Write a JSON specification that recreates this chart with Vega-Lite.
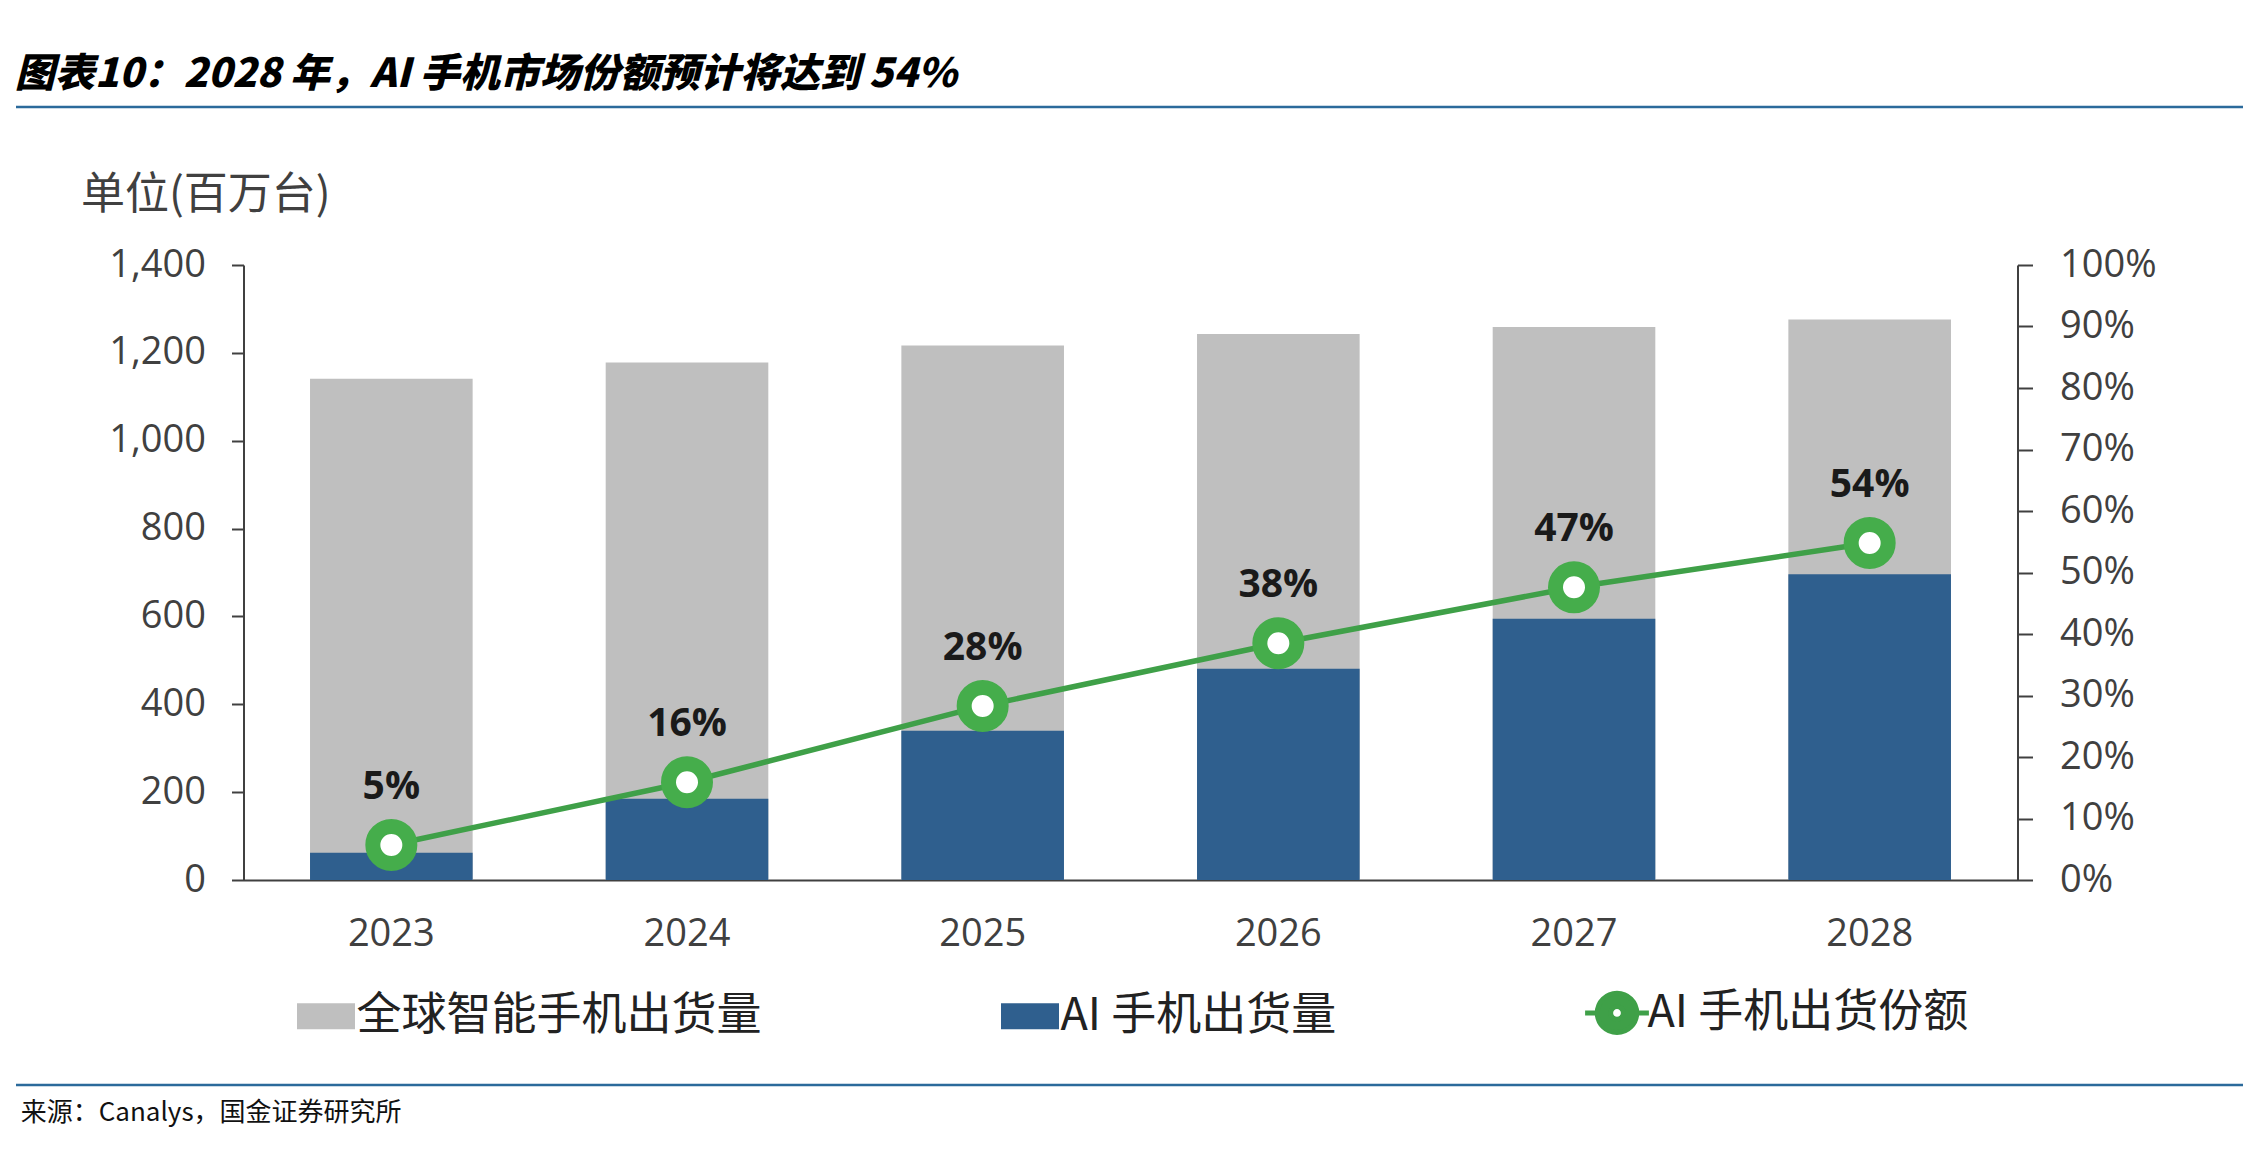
{
  "$schema": "https://vega.github.io/schema/vega-lite/v6.json",
  "background": "white",
  "padding": {"left": 14, "top": 54, "right": 0, "bottom": 20},
  "config": {
    "font": "'Open Sans', 'Noto Sans CJK SC'",
    "view": {"stroke": null},
    "axis": {"grid": false}
  },
  "title": {
    "text": "图表10：2028 年，AI 手机市场份额预计将达到 54%",
    "anchor": "start",
    "frame": "bounds",
    "font": "'Noto Sans CJK SC'",
    "fontSize": 40,
    "fontWeight": 900,
    "fontStyle": "italic",
    "color": "#000000",
    "offset": 11
  },
  "resolve": {"scale": {"color": "independent"}, "legend": {"color": "independent"}},
  "bounds": "flush",
  "center": true,
  "spacing": 20,
  "vconcat": [
    {
      "width": 2229,
      "height": 138,
      "data": {"values": [{}]},
      "mark": {"type": "rule", "color": "#2b6a9b", "strokeWidth": 2.5},
      "encoding": {
        "y": {"datum": 1, "type": "quantitative", "scale": {"domain": [0, 1]}, "axis": null}
      }
    },
    {
      "width": 1774,
      "height": 615,
      "data": {
        "values": [
          {"year": "2023", "total": 1141, "ai": 62, "share": 0.057, "label": "5%"},
          {"year": "2024", "total": 1178, "ai": 185, "share": 0.159, "label": "16%"},
          {"year": "2025", "total": 1217, "ai": 340, "share": 0.283, "label": "28%"},
          {"year": "2026", "total": 1243, "ai": 481, "share": 0.385, "label": "38%"},
          {"year": "2027", "total": 1259, "ai": 595, "share": 0.476, "label": "47%"},
          {"year": "2028", "total": 1276, "ai": 696, "share": 0.548, "label": "54%"}
        ]
      },
      "encoding": {
        "x": {
          "field": "year",
          "type": "ordinal",
          "scale": {"paddingInner": 0.45, "paddingOuter": 0.225},
          "axis": {
            "title": null,
            "labelAngle": 0,
            "labelFontSize": 38,
            "labelColor": "#404040",
            "labelPadding": 35,
            "ticks": false,
            "domainColor": "#404040",
            "domainWidth": 2
          }
        }
      },
      "layer": [
        {
          "layer": [
            {
              "mark": {"type": "bar"},
              "encoding": {
                "y": {
                  "field": "total",
                  "type": "quantitative",
                  "scale": {"domain": [0, 1400], "nice": false},
                  "axis": {
                    "values": [0, 200, 400, 600, 800, 1000, 1200, 1400],
                    "format": ",d",
                    "title": "单位(百万台)",
                    "titleAngle": 0,
                    "titleAlign": "left",
                    "titleBaseline": "middle",
                    "titleX": -163,
                    "titleY": -70,
                    "titleFontSize": 44,
                    "titleFontWeight": "normal",
                    "titleColor": "#404040",
                    "titleFont": "'Noto Sans CJK SC'",
                    "labelFontSize": 38,
                    "labelColor": "#404040",
                    "labelPadding": 26,
                    "tickSize": 12,
                    "tickColor": "#404040",
                    "tickWidth": 2,
                    "domainColor": "#404040",
                    "domainWidth": 2
                  }
                },
                "color": {
                  "datum": "全球智能手机出货量",
                  "scale": {
                    "domain": ["全球智能手机出货量", "AI 手机出货量", "AI 手机出货份额"],
                    "range": ["#bfbfbf", "#2f5f8e", "#3fa048"]
                  },
                  "legend": {
                    "orient": "none",
                    "legendX": 60,
                    "legendY": 725,
                    "direction": "horizontal",
                    "title": null,
                    "labelFontSize": 45,
                    "labelFont": "'Noto Sans CJK SC'",
                    "labelColor": "#222222",
                    "labelLimit": 0,
                    "symbolSize": 3364,
                    "columnPadding": 238,
                    "labelOffset": 8,
                    "encode": {
                      "symbols": {
                        "update": {
                          "shape": {"signal": "datum.value === 'AI 手机出货份额' ? 'M-1.1,0H-0.68M0.68,0H1.1M0.68,0A0.68,0.68 0 1 1 -0.68,0A0.68,0.68 0 1 1 0.68,0ZM0.22,0A0.22,0.22 0 1 0 -0.22,0A0.22,0.22 0 1 0 0.22,0Z' : 'M-1,-0.45H1V0.45H-1Z'"},
                          "fill": {"signal": "datum.value === 'AI 手机出货份额' ? '#45ad4b' : (datum.value === 'AI 手机出货量' ? '#2f5f8e' : '#bfbfbf')"},
                          "stroke": {"signal": "datum.value === 'AI 手机出货份额' ? '#45ad4b' : 'transparent'"},
                          "strokeWidth": {"signal": "datum.value === 'AI 手机出货份额' ? 5 : 0"},
                          "opacity": {"value": 1},
                          "fillOpacity": {"value": 1}
                        }
                      }
                    }
                  }
                }
              }
            },
            {
              "mark": {"type": "bar"},
              "encoding": {
                "y": {"field": "ai", "type": "quantitative"},
                "color": {"datum": "AI 手机出货量"}
              }
            }
          ]
        },
        {
          "layer": [
            {
              "mark": {"type": "line", "strokeWidth": 5.5},
              "encoding": {
                "y": {
                  "field": "share",
                  "type": "quantitative",
                  "scale": {"domain": [0, 1], "nice": false},
                  "axis": {
                    "orient": "right",
                    "values": [0, 0.1, 0.2, 0.3, 0.4, 0.5, 0.6, 0.7, 0.8, 0.9, 1],
                    "format": ".0%",
                    "title": null,
                    "labelFontSize": 38,
                    "labelColor": "#404040",
                    "labelPadding": 27,
                    "tickSize": 15,
                    "tickColor": "#404040",
                    "tickWidth": 2,
                    "domainColor": "#404040",
                    "domainWidth": 2
                  }
                },
                "color": {"datum": "AI 手机出货份额"}
              }
            },
            {
              "mark": {
                "type": "point",
                "shape": "circle",
                "filled": true,
                "fill": "white",
                "stroke": "#45ad4b",
                "strokeWidth": 15,
                "size": 1369,
                "opacity": 1
              },
              "encoding": {
                "y": {"field": "share", "type": "quantitative"}
              }
            },
            {
              "mark": {
                "type": "text",
                "dy": -58,
                "fontSize": 39,
                "fontWeight": "bold",
                "color": "#1a1a1a"
              },
              "encoding": {
                "y": {"field": "share", "type": "quantitative"},
                "text": {"field": "label"}
              }
            }
          ]
        }
      ],
      "resolve": {"scale": {"y": "independent"}}
    },
    {
      "width": 2229,
      "height": 185,
      "data": {"values": [{}]},
      "title": {
        "text": "来源：Canalys，国金证券研究所",
        "orient": "bottom",
        "anchor": "start",
        "frame": "bounds",
        "font": "'Noto Sans CJK SC'",
        "fontSize": 26,
        "fontWeight": "normal",
        "color": "#111111",
        "offset": 14,
        "dx": 6
      },
      "mark": {"type": "rule", "color": "#2b6a9b", "strokeWidth": 2.5},
      "encoding": {
        "y": {"datum": 0, "type": "quantitative", "scale": {"domain": [0, 1]}, "axis": null}
      }
    }
  ]
}
